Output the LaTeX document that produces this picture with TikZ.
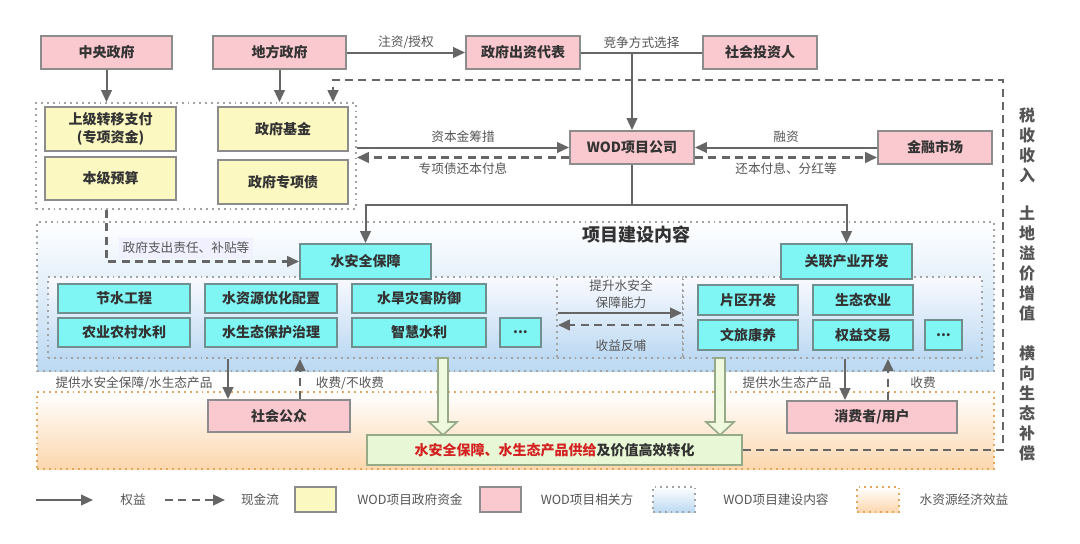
\documentclass[tikz,border=0pt]{standalone}
\usepackage{fontspec}
\setmainfont{Noto Sans CJK SC}
\usetikzlibrary{arrows.meta,calc}
\definecolor{pinkf}{HTML}{FAC9CF}
\definecolor{yelf}{HTML}{FCF8C2}
\definecolor{cyanf}{HTML}{80F6F4}
\definecolor{greenf}{HTML}{E8F8D6}
\definecolor{bord}{HTML}{8C8C8C}
\definecolor{cbord}{HTML}{70908F}
\definecolor{linec}{HTML}{666666}
\definecolor{txt}{HTML}{333333}
\definecolor{lblc}{HTML}{555555}
\definecolor{bluebot}{HTML}{BCD9F2}
\definecolor{orbot}{HTML}{FCD7AE}
\definecolor{orline}{HTML}{E2A65E}
\definecolor{redt}{HTML}{D42222}
\definecolor{gline}{HTML}{97AA88}
\definecolor{gfill}{HTML}{EEF9DD}
\newcommand\hollowarrow[3]{%
  \draw[garrow] (#1-5,#2) -- (#1+5,#2) -- (#1+5,#3-13) -- (#1+14,#3-13) -- (#1,#3) -- (#1-14,#3-13) -- (#1-5,#3-13) -- cycle;}
% \bx{style}{name}{x1}{y1}{x2}{y2}{text}
\newcommand\bx[7]{\node[#1, minimum width={(#5-#3)*0.75pt}, minimum height={(#6-#4)*0.75pt}] (#2) at ({(#3+#5)/2},{(#4+#6)/2}) {#7};}
\begin{document}
\begin{tikzpicture}[x=0.75pt,y=-0.75pt,
  base/.style={draw=bord, line width=1.4pt, inner sep=0pt, font=\fontsize{10.5}{13}\selectfont\bfseries, text=txt, align=center},
  pinkbox/.style={base, fill=pinkf},
  yelbox/.style={base, fill=yelf},
  cyanbox/.style={base, fill=cyanf, draw=cbord},
  greenbox/.style={base, fill=greenf, draw=gline},
  dotb/.style={line width=1.4pt, dash pattern=on 1.4pt off 3pt, inner sep=0pt},
  gzone/.style={dotb, draw=bord!80, fill=white},
  bzone/.style={dotb, draw=bord!80, top color=white, bottom color=bluebot},
  izone/.style={dotb, draw=bord!80, top color=blue!2, bottom color=bluebot},
  ozone/.style={dotb, draw=orline, top color=white, bottom color=orbot},
  lbl/.style={font=\fontsize{9.5}{12.5}\selectfont, text=lblc, align=center, inner sep=1pt},
  vt/.style={font=\fontsize{12}{15}\selectfont\bfseries, text=lblc, align=center},
  plain/.style={draw=linec, line width=1.5pt},
  solid/.style={plain, -{Triangle[length=9pt,width=8pt]}},
  cash/.style={draw=linec, line width=1.8pt, dash pattern=on 6pt off 4pt, -{Triangle[length=9pt,width=8pt]}},
  garrow/.style={draw=gline, fill=gfill, line width=1.2pt, line join=miter}]
\useasboundingbox[fill=white] (0,0) rectangle (1080,543);
% helper coordinates
\coordinate (xa) at (228,0);
\coordinate (xb) at (300,0);
\coordinate (xc) at (845,0);
\coordinate (xd) at (888,0);
\coordinate (xr) at (1003,0);
\coordinate (xt) at (333,0);
\coordinate (yt) at (0,80);
\coordinate (ym1) at (0,313);
\coordinate (ym2) at (0,325);
% zones
\bx{bzone}{bz}{37}{222}{994}{371}{}
\bx{ozone}{oz}{37}{392}{994}{469}{}
\bx{gzone}{gz}{36}{103}{356}{209}{}
\bx{izone}{lz}{48}{277}{557}{358}{}
\bx{izone}{mz}{557}{277}{683}{358}{}
\bx{izone}{rz}{683}{277}{982}{358}{}
% top boxes
\bx{pinkbox}{zy}{41}{36}{172}{69}{中央政府}
\bx{pinkbox}{df}{213}{36}{346}{69}{地方政府}
\bx{pinkbox}{cz}{466}{36}{580}{69}{政府出资代表}
\bx{pinkbox}{sh}{703}{36}{817}{69}{社会投资人}
\bx{yelbox}{sj}{45}{107}{176}{151}{上级转移支付\\(专项资金)}
\bx{yelbox}{bj}{45}{157}{176}{200}{本级预算}
\bx{yelbox}{jj}{218}{107}{348}{151}{政府基金}
\bx{yelbox}{zx}{218}{160}{348}{204}{政府专项债}
\bx{pinkbox}{wod}{570}{131}{694}{164}{WOD项目公司}
\bx{pinkbox}{jr}{878}{131}{992}{164}{金融市场}
% construction content
\node[font=\fontsize{13.5}{15}\selectfont\bfseries, text=txt] (title) at (636,235) {项目建设内容};
\bx{cyanbox}{ws}{300}{244}{431}{279}{水安全保障}
\bx{cyanbox}{gl}{781}{244}{912}{279}{关联产业开发}
\bx{cyanbox}{a1}{58}{284}{190}{313}{节水工程}
\bx{cyanbox}{a2}{205}{284}{337}{313}{水资源优化配置}
\bx{cyanbox}{a3}{352}{284}{486}{313}{水旱灾害防御}
\bx{cyanbox}{b1}{58}{318}{190}{347}{农业农村水利}
\bx{cyanbox}{b2}{205}{318}{337}{347}{水生态保护治理}
\bx{cyanbox}{b3}{352}{318}{486}{347}{智慧水利}
\bx{cyanbox}{b4}{500}{318}{541}{347}{...}
\bx{cyanbox}{c1}{698}{285}{798}{315}{片区开发}
\bx{cyanbox}{c2}{813}{285}{913}{315}{生态农业}
\bx{cyanbox}{d1}{698}{320}{798}{350}{文旅康养}
\bx{cyanbox}{d2}{813}{320}{913}{350}{权益交易}
\bx{cyanbox}{d3}{925}{320}{962}{350}{...}
% bottom
\bx{pinkbox}{gp}{208}{400}{350}{432}{社会公众}
\bx{pinkbox}{xf}{787}{401}{957}{433}{消费者/用户}
\bx{greenbox}{gr}{367}{435}{742}{465}{{\color{redt}水安全保障、水生态产品供给}及价值高效转化}
% vertical texts
\node[vt] (v1) at (1027,145) {税\\收\\收\\入};
\node[vt] (v2) at (1027,263) {土\\地\\溢\\价\\增\\值};
\node[vt] (v3) at (1027,403) {横\\向\\生\\态\\补\\偿};
% top connectors
\draw[solid] (zy.south) -- (zy.south |- gz.north);
\draw[solid] (df.south) -- (df.south |- gz.north);
\draw[solid] (df.east) -- (cz.west) node[lbl, midway, above=1pt] {注资/授权};
\draw[plain] (cz.east) -- (sh.west) node[lbl, midway, above=1pt] {竞争方式选择};
\draw[solid] (wod.north |- cz.east) -- (wod.north);
\draw[solid] (wod.west -| gz.east) -- (wod.west) node[lbl, midway, above=2pt] {资本金筹措};
\draw[cash] ([yshift=-7.5pt]wod.west) -- ([yshift=-7.5pt]wod.west -| gz.east) node[lbl, midway, below=2pt] {专项债还本付息};
\draw[solid] (jr.west) -- (wod.east) node[lbl, midway, above=2pt] {融资};
\draw[cash] ([yshift=-7.5pt]wod.east) -- ([yshift=-7.5pt]jr.west) node[lbl, midway, below=2pt] {还本付息、分红等};
\coordinate (hb) at ($(wod.south)+(0,40)$);
\draw[plain] (wod.south) -- (hb);
\draw[solid] (hb) -| (ws.north);
\draw[solid] (hb) -| (gl.north);
% government expenditure
\draw[cash] (gz.south -| zy.south) |- (ws.west);
\node[lbl, fill=blue!6, inner sep=3pt] (gzl) at (186,248) {政府支出责任、补贴等};
% middle
\draw[solid] (lz.east |- ym1) -- (rz.west |- ym1);
\draw[cash] (rz.west |- ym2) -- (lz.east |- ym2);
\node[lbl] (m1) at (621,294) {提升水安全\\保障能力};
\node[lbl] (m2) at (621,346) {收益反哺};
% bottom connectors
\draw[solid] (lz.south -| xa) -- (gp.north -| xa);
\draw[cash] (gp.north -| xb) -- (lz.south -| xb);
\draw[solid] (rz.south -| xc) -- (xf.north -| xc);
\draw[cash] (xf.north -| xd) -- (rz.south -| xd);
\node[lbl] (l1) at (134,383) {提供水安全保障/水生态产品};
\node[lbl] (l2) at (350,383) {收费/不收费};
\node[lbl] (l3) at (787,383) {提供水生态产品};
\node[lbl] (l4) at (923,383) {收费};
\hollowarrow{443}{358}{435}
\hollowarrow{720}{358}{435}
% tax loop
\draw[cash] (gr.east) -- (gr.east -| xr) -- (xr |- yt) -- (xt |- yt) -- (xt |- gz.north);
% legend
\coordinate (la1) at (36,500);
\coordinate (la2) at (93,500);
\coordinate (lb1) at (165,500);
\coordinate (lb2) at (225,500);
\draw[solid] (la1) -- (la2);
\node[lbl] (t1) at (133,500) {权益};
\draw[cash] (lb1) -- (lb2);
\node[lbl] (t2) at (260,500) {现金流};
\bx{yelbox}{ky}{295}{487}{336}{512}{}
\node[lbl] (t3) at (410,500) {WOD项目政府资金};
\bx{pinkbox}{kp}{480}{487}{521}{512}{}
\node[lbl] (t4) at (587,500) {WOD项目相关方};
\bx{bzone}{kb}{653}{487}{695}{512}{}
\node[lbl] (t5) at (776,500) {WOD项目建设内容};
\bx{ozone}{ko}{857}{487}{899}{512}{}
\node[lbl] (t6) at (964,500) {水资源经济效益};
\end{tikzpicture}
\end{document}
